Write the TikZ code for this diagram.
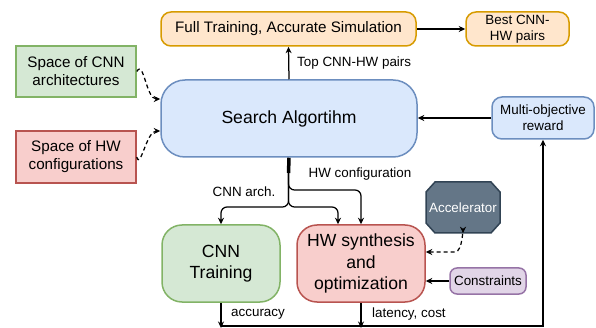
\documentclass[tikz,border=0pt]{standalone}
\usepackage{fontspec}
\setmainfont{Liberation Sans}
\usetikzlibrary{arrows.meta}

\definecolor{orfill}{HTML}{FFE6CC}\definecolor{ordraw}{HTML}{D79B00}
\definecolor{blfill}{HTML}{DAE8FC}\definecolor{bldraw}{HTML}{6C8EBF}
\definecolor{grfill}{HTML}{D5E8D4}\definecolor{grdraw}{HTML}{82B366}
\definecolor{rdfill}{HTML}{F8CECC}\definecolor{rddraw}{HTML}{B85450}
\definecolor{pufill}{HTML}{E1D5E7}\definecolor{pudraw}{HTML}{9673A6}
\definecolor{slfill}{HTML}{647687}\definecolor{sldraw}{HTML}{314354}

\begin{document}
\begin{tikzpicture}[x=1pt,y=-1pt,
  base/.style={line width=1.5pt, align=center, inner sep=0pt},
  midfont/.style={font=\fontsize{15.2}{18}\selectfont},
  smallfont/.style={font=\fontsize{13.4}{16}\selectfont},
  bigfont/.style={font=\fontsize{17.6}{21.5}\selectfont},
  orangebox/.style={base, draw=ordraw, fill=orfill},
  bluebox/.style={base, draw=bldraw, fill=blfill},
  greenbox/.style={base, draw=grdraw, fill=grfill},
  redbox/.style={base, draw=rddraw, fill=rdfill},
  purplebox/.style={base, draw=pudraw, fill=pufill},
  tip/.style={Stealth[length=6.5pt,width=6pt]},
  arr/.style={line width=1.25pt, -{Stealth[length=6.5pt,width=6pt]}},
  dasharr/.style={arr, dashed, dash pattern=on 4pt off 3pt},
  lbl/.style={smallfont, inner sep=0pt},
]
\useasboundingbox (0,0) rectangle (596,328);

% top row
\node[orangebox, midfont, rounded corners=10pt, minimum width=255pt, minimum height=34pt]
  (full) at (288.5,29) {Full Training, Accurate Simulation};
\node[orangebox, smallfont, rounded corners=10pt, minimum width=103pt, minimum height=34pt]
  (best) at (517.5,29) {Best CNN-\\HW pairs};

% search core
\node[bluebox, bigfont, rounded corners=24pt, minimum width=256pt, minimum height=77pt]
  (search) at (289,118.5) {Search Algortihm};

% design spaces
\node[greenbox, midfont, minimum width=120pt, minimum height=51pt]
  (spcnn) at (76,71.5) {Space of CNN\\architectures};
\node[redbox, midfont, minimum width=120pt, minimum height=52pt]
  (sphw) at (76,157) {Space of HW\\configurations};

% reward
\node[bluebox, smallfont, rounded corners=10pt, minimum width=102pt, minimum height=42pt]
  (reward) at (543,118) {Multi-objective\\reward};

% evaluation stage
\node[greenbox, bigfont, rounded corners=20pt, minimum width=118pt, minimum height=77pt]
  (cnntrain) at (221,263.5) {CNN\\Training};
\node[redbox, bigfont, rounded corners=20pt, minimum width=128pt, minimum height=77pt]
  (hws) at (361,263.5) {HW synthesis\\and\\optimization};

% accelerator (octagon drawn around its node)
\fill[slfill, draw=sldraw, line width=1.5pt]
  (435,182) -- (491,182) -- (500,192) -- (500,223) -- (491,233) -- (435,233)
  -- (426,223) -- (426,192) -- cycle;
\node[smallfont, text=white, inner sep=0pt, minimum width=74pt, minimum height=51pt]
  (acc) at (463,207.5) {Accelerator};

\node[purplebox, smallfont, rounded corners=7pt, minimum width=76pt, minimum height=26pt]
  (cons) at (488,281) {Constraints};

% connectors
\draw[arr] (full) -- (best);
\draw[arr] (search.north) -- (full.south);
\node[lbl, anchor=west] (toplbl) at (297,63) {Top CNN-HW pairs};

\draw[dasharr] (spcnn.east) to[out=60,in=180] (search.west |- 0,99);
\draw[dasharr] (sphw.east) to[out=-75,in=180] (search.west |- 0,131);

\draw[arr] (reward.west) -- (search.east |- reward.west);

% split below the search block
\coordinate (sp) at (288.5,173);
\draw[line width=3.5pt] (search.south) -- (sp);
\draw[arr, rounded corners=6pt] (sp) -- (288.5,207) -| (cnntrain.north);
\draw[arr, rounded corners=6pt] (sp) -- (288.5,207) -| ([xshift=-23pt]hws.north);
\draw[arr, rounded corners=6pt] (sp) -- (288.5,190) -| (hws.north);
\node[lbl] (cnnlbl) at (244,192) {CNN arch.};
\node[lbl] (hwlbl) at (360,174) {HW configuration};

% accelerator and constraints into synthesis
\draw[dasharr, {Stealth[length=6.5pt,width=6pt]}-{Stealth[length=6.5pt,width=6pt]}]
  (hws.east |- 0,252) -- (455,252) to[out=0,in=90] (acc.south);
\draw[arr] (cons.west) -- (hws.east |- cons.west);

% results back to the reward
\coordinate (bl) at (221,326);
\coordinate (bm) at (361,326);
\draw[arr] (cnntrain.south) -- ([yshift=-2pt]bl);
\draw[arr] (hws.south) -- ([yshift=-2pt]bm);
\draw[arr] (bl) -| (reward.south);
\node[lbl, anchor=west] (acclbl) at (231,314) {accuracy};
\node[lbl, anchor=west] (latlbl) at (372,314) {latency, cost};

\end{tikzpicture}
\end{document}
